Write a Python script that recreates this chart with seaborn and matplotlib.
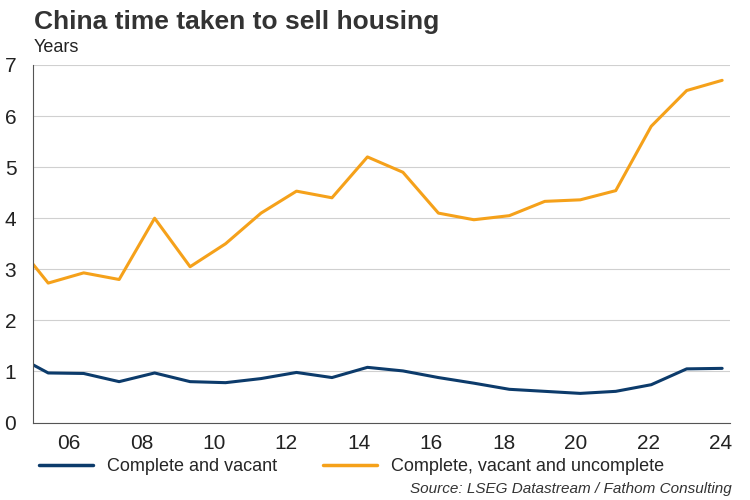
import numpy as np
import pandas as pd
import matplotlib
matplotlib.use("Agg")
import matplotlib.pyplot as plt
import seaborn as sns
from matplotlib.ticker import MultipleLocator

# x positions in years
years = [2005.0] + [2005.42 + 0.98 * k for k in range(20)]
vacant = [1.13, 0.97, 0.96, 0.80, 0.97, 0.80, 0.78, 0.86, 0.98, 0.88, 1.08,
          1.01, 0.88, 0.77, 0.65, 0.61, 0.57, 0.61, 0.74, 1.05, 1.06]
uncomplete = [3.10, 2.73, 2.93, 2.80, 4.00, 3.05, 3.50, 4.10, 4.53, 4.40, 5.20,
              4.90, 4.10, 3.97, 4.05, 4.33, 4.36, 4.54, 5.80, 6.50, 6.70]
tick_years = [2006, 2008, 2010, 2012, 2014, 2016, 2018, 2020, 2022, 2024]
tick_labels = ["06", "08", "10", "12", "14", "16", "18", "20", "22", "24"]

df = pd.DataFrame({"year": years * 2,
                   "value": vacant + uncomplete,
                   "series": ["Complete and vacant"] * len(years)
                   + ["Complete, vacant and uncomplete"] * len(years)})

sns.set_style("white")
plt.rcParams["font.family"] = ["Liberation Sans", "DejaVu Sans"]

fig, ax = plt.subplots(figsize=(7.5, 5), dpi=100)
fig.subplots_adjust(left=0.044, right=0.973, top=0.87, bottom=0.155)

sns.lineplot(data=df, x="year", y="value", hue="series",
             palette=["#0c3b6b", "#f5a11a"], linewidth=2.2, ax=ax, legend=False)

ax.set_xlim(2005, 2024.25)
ax.set_ylim(0, 7)
ax.set_xticks(tick_years)
ax.set_xticklabels(tick_labels)
ax.xaxis.set_minor_locator(MultipleLocator(0.25))
ax.yaxis.set_major_locator(MultipleLocator(1))
ax.yaxis.set_minor_locator(MultipleLocator(0.2))
ax.grid(axis="y", color="#d0d0d0", linewidth=0.8)
ax.set_axisbelow(True)
for s in ["top", "right"]:
    ax.spines[s].set_visible(False)
ax.spines["left"].set_color("#555555")
ax.spines["bottom"].set_color("#555555")
ax.tick_params(axis="both", which="both", direction="in", color="#555555",
               labelsize=15, labelcolor="#222222")
ax.tick_params(axis="both", which="major", length=5)
ax.tick_params(axis="both", which="minor", length=3)
ax.tick_params(axis="y", pad=12)
ax.tick_params(axis="x", pad=8)
ax.set_xlabel("")
ax.set_ylabel("")

fig.text(0.045, 0.955, "China time taken to sell housing", fontsize=19,
         fontweight="bold", color="#333333", va="center")
fig.text(0.045, 0.905, "Years", fontsize=13, color="#222222", va="center")

from matplotlib.lines import Line2D
handles = [Line2D([], [], color="#0c3b6b", lw=2.5),
           Line2D([], [], color="#f5a11a", lw=2.5)]
fig.legend(handles, ["Complete and vacant", "Complete, vacant and uncomplete"],
           loc="center left", bbox_to_anchor=(0.03, 0.067), ncol=2, frameon=False,
           fontsize=13, handlelength=3, columnspacing=2.5)
fig.text(0.975, 0.022, "Source: LSEG Datastream / Fathom Consulting",
         fontsize=11, style="italic", color="#333333", ha="right", va="center")

fig.savefig("out.png", dpi=100)
